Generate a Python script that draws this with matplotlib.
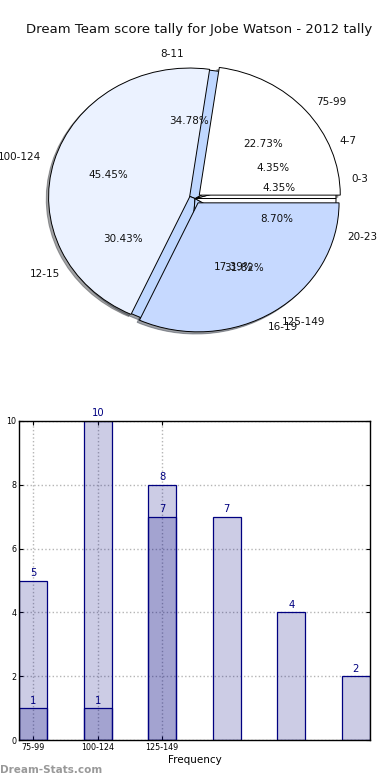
import matplotlib
matplotlib.use("Agg")
import matplotlib.pyplot as plt

# ---- data ----
title = "Dream Team score tally for Jobe Watson - 2012 tally"
score_labels = ["75-99", "100-124", "125-149"]
score_counts = [5, 10, 7]
quarter_labels = ["0-3", "4-7", "8-11", "12-15", "16-19", "20-23"]
quarter_counts = [1, 1, 8, 7, 4, 2]

bar_light = [5, 10, 8, 7, 4, 2]
bar_dark = [1, 1, 7]
bar_ticklabels = ["75-99", "100-124", "125-149"]

score_colors = ["#ffffff", "#ebf2ff", "#c6d9ff"]
quarter_colors = ["#ffffff", "#ffffff", "#bfd7ff", "#bfd7ff", "#bfd7ff", "#ffffff"]

fig = plt.figure(figsize=(3.9, 7.8), dpi=100)
W, H = 390.0, 780.0

# ---- pie ----
cx, cy = 195.0, 198.5
rx, ry = 141.0, 129.0
axw, axh = 2.5 * rx, 2.5 * ry
axp = fig.add_axes([(cx - axw / 2) / W, (H - cy - axh / 2) / H, axw / W, axh / H])

wp = dict(edgecolor="black", linewidth=0.7)
tp = dict(fontsize=7.5, color="#111111")
shadow = dict(ox=-0.012, oy=-0.012)
axp.pie(quarter_counts, labels=quarter_labels, colors=quarter_colors,
        autopct="%1.2f%%", pctdistance=0.6, labeldistance=1.12,
        shadow=shadow, startangle=0, counterclock=True,
        wedgeprops=wp, textprops=tp)
axp.pie(score_counts, labels=score_labels, colors=score_colors,
        autopct="%1.2f%%", pctdistance=0.6, labeldistance=1.1,
        explode=[0.04, 0.04, 0.04],
        shadow=shadow, startangle=0, counterclock=True,
        wedgeprops=wp, textprops=tp)
axp.set_aspect("auto")
axp.set_xlim(-1.25, 1.25)
axp.set_ylim(-1.25, 1.25)
axp.axis("off")

fig.text(199 / W, 1 - 30 / H, title, ha="center", va="center", fontsize=9.5, color="#111111")

# ---- bars ----
axb = fig.add_axes([19 / W, 40 / H, 351 / W, 319 / H])
face = (0, 0, 0.5, 0.2)
xl = list(range(len(bar_light)))
xd = list(range(len(bar_dark)))
axb.bar(xl, bar_light, width=0.44, color=face, edgecolor="navy", linewidth=0.9)
axb.bar(xd, bar_dark, width=0.44, color=face, edgecolor="navy", linewidth=0.9)
for x, h in zip(xl, bar_light):
    axb.text(x, h + 0.08, str(h), ha="center", va="bottom", fontsize=7.2, color="navy")
for x, h in zip(xd, bar_dark):
    axb.text(x, h + 0.08, str(h), ha="center", va="bottom", fontsize=7.2, color="navy")

axb.set_xlim(-0.22, len(bar_light) - 1 + 0.22)
axb.set_ylim(0, 10)
axb.set_xticks(range(len(bar_ticklabels)))
axb.set_xticklabels(bar_ticklabels)
axb.set_yticks(range(0, 11, 2))
axb.tick_params(direction="in", top=True, right=True, labelsize=5.8, length=3, pad=2)
axb.grid(True, linestyle=":", color="#b5b5b5", linewidth=1.0)
axb.set_axisbelow(True)
axb.set_xlabel("Frequency", fontsize=7.5, labelpad=2)
for s in axb.spines.values():
    s.set_linewidth(1.0)

fig.text(0.0, 1 - 770 / H, "Dream-Stats.com", ha="left", va="center",
         fontsize=7.5, fontweight="bold", color="#999999")

fig.savefig("out.png", dpi=100)
